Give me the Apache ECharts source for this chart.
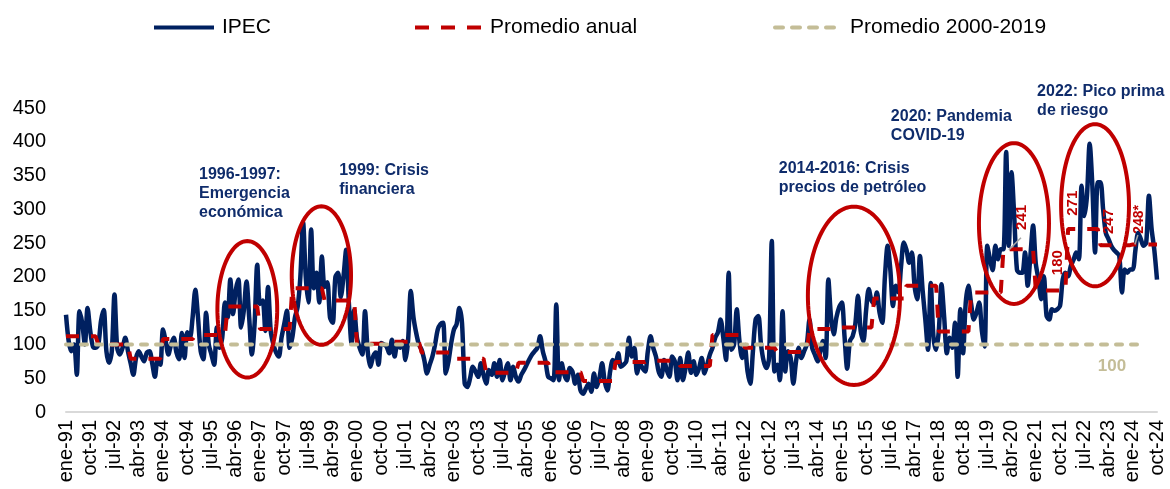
<!DOCTYPE html>
<html>
<head>
<meta charset="utf-8">
<script src="https://cdn.jsdelivr.net/npm/echarts@6/dist/echarts.min.js"></script>
<style>
  html, body { margin: 0; padding: 0; background: #ffffff; }
  #chart { width: 1170px; height: 489px; }
</style>
</head>
<body>
<div id="chart"></div>
<script>
// ---------------- DATA ----------------
const monthNames = ['ene', 'feb', 'mar', 'abr', 'may', 'jun', 'jul', 'ago', 'sep', 'oct', 'nov', 'dic'];
const firstYear = 1991;
const lastYear = 2024;
const lastMonthOfLastYear = 10; // data end: oct-24

// IPEC monthly values, one row per year
const ipec1991_1999 = [
  144, 105, 90, 100, 55, 149, 132, 100, 154, 120, 97, 95,
  100, 135, 151, 90, 73, 90, 174, 95, 85, 95, 110, 90,
  72, 55, 80, 90, 82, 75, 88, 90, 72, 52, 78, 70,
  122, 105, 85, 100, 110, 88, 78, 117, 80, 118, 110, 140,
  181, 140, 90, 78, 147, 100, 85, 70, 125, 95, 110, 162,
  140, 196, 145, 180, 196, 125, 150, 193, 140, 85, 130, 218,
  160, 165, 120, 185, 120, 100, 88, 82, 110, 130, 150, 95,
  110, 140, 156, 200, 281, 200, 162, 270, 183, 206, 162, 230,
  185, 192, 140, 132, 200, 206, 170, 200, 240, 162, 102, 151
];
const ipec2000_2009 = [
  110, 95, 85, 149, 90, 67, 82, 88, 70, 102, 100, 97,
  87, 107, 82, 100, 95, 105, 77, 107, 179, 140, 117, 100,
  92, 77, 57, 70, 82, 100, 122, 130, 132, 57, 75, 102,
  122, 130, 154, 132, 42, 37, 50, 67, 60, 52, 72, 55,
  42, 62, 55, 72, 52, 77, 47, 60, 72, 47, 67, 52,
  45, 55, 62, 70, 78, 85, 90, 95, 112, 90, 75, 52,
  50, 47, 159, 47, 72, 55, 47, 65, 60, 42, 55, 32,
  27, 35, 42, 30, 57, 37, 50, 72, 45, 32, 60, 77,
  72, 87, 67, 70, 75, 110, 82, 95, 57, 72, 65, 60,
  90, 112, 95, 82, 60, 52, 77, 62, 52, 82, 75, 47
];
const ipec2010_2019 = [
  80, 47, 65, 88, 58, 75, 55, 65, 80, 57, 70, 85,
  95, 110, 118, 137, 110, 77, 206, 92, 100, 152, 105, 80,
  95, 60, 42, 90, 137, 142, 100, 75, 65, 80, 253, 60,
  70, 47, 149, 60, 90, 80, 42, 75, 95, 80, 90, 100,
  137, 95, 85, 75, 90, 105, 80, 196, 140, 115, 140, 155,
  162, 112, 64, 105, 112, 130, 172, 120, 105, 150, 182, 165,
  160, 177, 147, 132, 200, 246, 211, 157, 187, 177, 216, 251,
  240, 221, 236, 187, 167, 231, 180, 137, 92, 191, 112, 92,
  120, 189, 140, 87, 110, 95, 132, 52, 152, 87, 162, 187,
  160, 137, 147, 162, 120, 97, 246, 226, 210, 246, 226, 241
];
const ipec2020_2024 = [
  241, 385, 246, 355, 290, 211, 206, 206, 236, 187, 231, 276,
  220, 196, 167, 201, 142, 137, 152, 150, 152, 157, 196, 206,
  201, 216, 225, 236, 226, 335, 290, 320, 397, 335, 236, 340,
  340, 300, 265, 256, 246, 240, 236, 231, 177, 211, 206, 211,
  211, 240, 265, 256, 246, 251, 320, 271, 240, 196
];

// Annual averages (Promedio anual), one per year 1991..2024
const annualYears = [1991, 1992, 1993, 1994, 1995, 1996, 1997, 1998, 1999, 2000,
  2001, 2002, 2003, 2004, 2005, 2006, 2007, 2008, 2009, 2010,
  2011, 2012, 2013, 2014, 2015, 2016, 2017, 2018, 2019, 2020,
  2021, 2022, 2023, 2024];
const annualAvg = [112, 100, 79, 108, 114, 156, 123, 183, 165, 101,
  104, 88, 79, 58, 73, 59, 46, 74, 76, 68,
  114, 95, 89, 123, 125, 168, 187, 119, 177, 241,
  180, 271, 247, 248];

// Promedio 2000-2019
const benchmarkValue = 100;
const benchmarkLastIndex = 399;

// Y axis ticks
const yMin = 0, yMax = 450, yStep = 50;

// Text annotations
const annualValueLabels = [
  { text: '241', idx: 354.9, val: 288 },
  { text: '180', idx: 368.3, val: 221 },
  { text: '271', idx: 373.8, val: 309 },
  { text: '247', idx: 387.2, val: 282 },
  { text: '248*', idx: 398.4, val: 285 }
];
const eventNotes = [
  { text: '1996-1997:\nEmergencia\neconómica', idx: 49.4, val: 366 },
  { text: '1999: Crisis\nfinanciera', idx: 101.4, val: 371 },
  { text: '2014-2016: Crisis\nprecios de petróleo', idx: 264.6, val: 374 },
  { text: '2020: Pandemia\nCOVID-19', idx: 306.2, val: 452 },
  { text: '2022: Pico prima\nde riesgo', idx: 360.5, val: 488 }
];
const eventEllipses = [
  { cx: 67.3, cy: 152, rx: 11.1, ry: 101 },
  { cx: 94.8, cy: 202, rx: 11.0, ry: 102.5 },
  { cx: 292.5, cy: 172, rx: 17.1, ry: 132 },
  { cx: 351.9, cy: 279, rx: 13.0, ry: 119 },
  { cx: 382.0, cy: 306, rx: 12.6, ry: 120 }
];
const leaderLines = [
  { from: [350.0, 240], to: [354.5, 258] },
  { from: [396.8, 248], to: [397.9, 262] }
];
const benchmarkLabel = { text: '100', idx: 388.3, val: 67 };

// ---------------- BUILD ----------------
const ipec = [].concat(ipec1991_1999, ipec2000_2009, ipec2010_2019, ipec2020_2024);
const categories = [];
const annualSeries = [];
const benchmarkSeries = [];
for (let y = firstYear; y <= lastYear; y++) {
  const lastM = (y === lastYear) ? lastMonthOfLastYear : 12;
  for (let m = 0; m < lastM; m++) {
    categories.push(monthNames[m] + '-' + String(y).slice(2));
    annualSeries.push(annualAvg[annualYears.indexOf(y)]);
  }
}
for (let i = 0; i < categories.length; i++) {
  benchmarkSeries.push(i <= benchmarkLastIndex ? benchmarkValue : null);
}

const FONT = '"Liberation Sans", Arial, sans-serif';
const NAVY = '#002060';
const RED = '#C00000';
const KHAKI = '#C4BD97';
const NOTE = '#0F2C6B';

const chart = echarts.init(document.getElementById('chart'), null, { renderer: 'canvas' });

function legendFor(name, left, width, lineStyle) {
  return {
    left: left,
    top: 17,
    padding: 0,
    data: [name],
    itemWidth: width,
    itemHeight: 14,
    itemStyle: { opacity: 0 },
    lineStyle: lineStyle,
    textStyle: { fontFamily: FONT, fontSize: 21, color: '#000', padding: [0, 0, 0, 3] }
  };
}

const option = {
  animation: false,
  backgroundColor: '#ffffff',
  grid: { left: 66, right: 13, top: 108, bottom: 77, containLabel: false },
  legend: [
    legendFor('IPEC', 152, 60, { width: 4 }),
    legendFor('Promedio anual', 413, 67, { width: 4, type: [14, 12] }),
    legendFor('Promedio 2000-2019', 773, 67, { width: 4, type: [8, 9], cap: 'round' })
  ],
  xAxis: {
    type: 'category',
    data: categories,
    boundaryGap: false,
    axisTick: { show: false },
    axisLine: { lineStyle: { color: '#D9D9D9', width: 2 } },
    axisLabel: {
      interval: 8,
      rotate: 90,
      margin: 8,
      fontFamily: FONT,
      fontSize: 20,
      color: '#000'
    },
    splitLine: { show: false }
  },
  yAxis: {
    type: 'value',
    min: yMin,
    max: yMax,
    interval: yStep,
    axisLine: { show: false },
    axisTick: { show: false },
    splitLine: { show: false },
    axisLabel: { fontFamily: FONT, fontSize: 20, color: '#000', margin: 20 }
  },
  series: [
    {
      name: 'IPEC',
      type: 'line',
      data: ipec,
      symbol: 'none',
      smooth: 0.3,
      lineStyle: { color: NAVY, width: 4.5, join: 'round' },
      itemStyle: { color: NAVY },
      z: 2
    },
    {
      name: 'Promedio anual',
      type: 'line',
      data: annualSeries,
      symbol: 'none',
      lineStyle: { color: RED, width: 4, type: [13, 12], cap: 'butt' },
      itemStyle: { color: RED },
      z: 3
    },
    {
      name: 'Promedio 2000-2019',
      type: 'line',
      data: benchmarkSeries,
      symbol: 'none',
      lineStyle: { color: KHAKI, width: 4, type: [6, 9], cap: 'round' },
      itemStyle: { color: KHAKI },
      z: 4
    }
  ]
};
chart.setOption(option);

function toPx(idx, val) {
  const a = chart.convertToPixel({ gridIndex: 0 }, [0, val]);
  const b = chart.convertToPixel({ gridIndex: 0 }, [categories.length - 1, val]);
  return [a[0] + (b[0] - a[0]) * idx / (categories.length - 1), a[1]];
}

const graphics = [];
eventEllipses.forEach(function (e) {
  const c = toPx(e.cx, e.cy);
  const p1 = toPx(e.cx + e.rx, e.cy + e.ry);
  const rxp = Math.abs(p1[0] - c[0]);
  const ryp = Math.abs(p1[1] - c[1]);
  const pts = [];
  for (let k = 0; k < 120; k++) {
    const t = k / 120 * Math.PI * 2;
    pts.push([c[0] + rxp * Math.cos(t), c[1] + ryp * Math.sin(t)]);
  }
  graphics.push({
    type: 'polygon', z: 100, silent: true,
    shape: { points: pts },
    style: { fill: null, stroke: RED, lineWidth: 4 }
  });
});
leaderLines.forEach(function (l) {
  const a = toPx(l.from[0], l.from[1]);
  const b = toPx(l.to[0], l.to[1]);
  graphics.push({
    type: 'line', z: 101, silent: true,
    shape: { x1: a[0], y1: a[1], x2: b[0], y2: b[1] },
    style: { stroke: '#A6A6A6', lineWidth: 1.5 }
  });
});
annualValueLabels.forEach(function (l) {
  const p = toPx(l.idx, l.val);
  graphics.push({
    type: 'text', z: 102, silent: true,
    x: p[0], y: p[1], rotation: Math.PI / 2,
    style: {
      text: l.text, x: 0, y: 0, align: 'center', verticalAlign: 'middle',
      fill: RED, fontFamily: FONT, fontWeight: 'bold',
      fontSize: l.text.length > 3 ? 14 : 15
    }
  });
});
eventNotes.forEach(function (n) {
  const p = toPx(n.idx, n.val);
  graphics.push({
    type: 'text', z: 102, silent: true,
    x: p[0], y: p[1],
    style: {
      text: n.text, x: 0, y: 0, align: 'left', verticalAlign: 'top',
      fill: NOTE, fontFamily: FONT, fontWeight: 'bold', fontSize: 16, lineHeight: 19
    }
  });
});
(function () {
  const p = toPx(benchmarkLabel.idx, benchmarkLabel.val);
  graphics.push({
    type: 'text', z: 102, silent: true,
    x: p[0], y: p[1],
    style: {
      text: benchmarkLabel.text, x: 0, y: 0, align: 'center', verticalAlign: 'middle',
      fill: KHAKI, fontFamily: FONT, fontWeight: 'bold', fontSize: 17
    }
  });
})();
chart.setOption({ graphic: graphics });
</script>
</body>
</html>
